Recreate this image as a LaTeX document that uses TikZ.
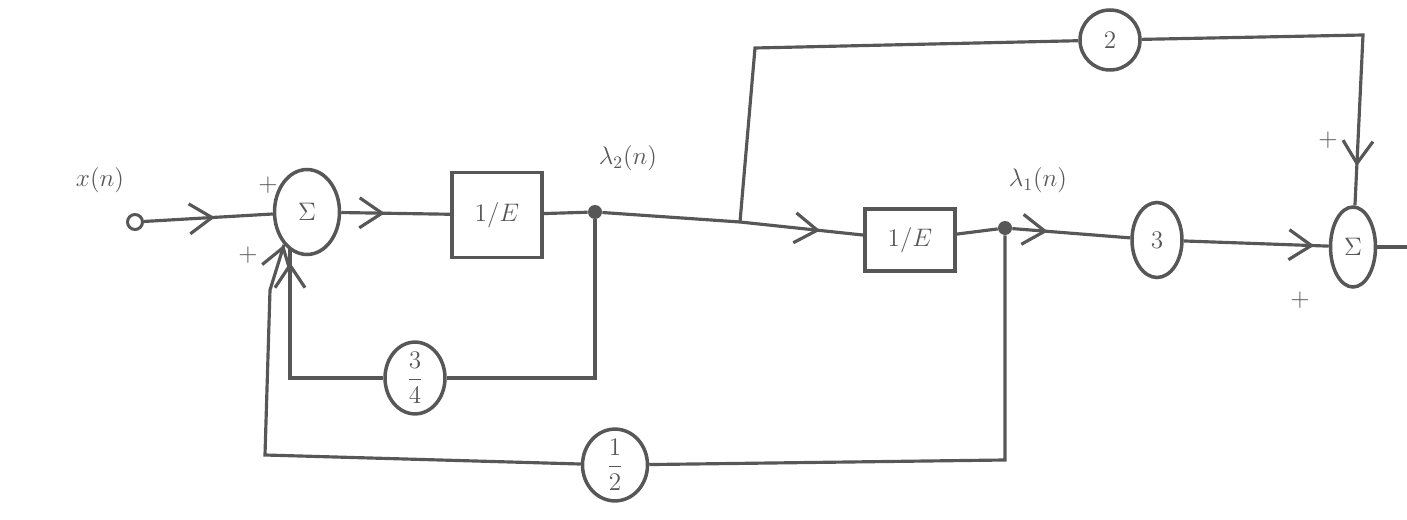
\documentclass[tikz,border=0pt]{standalone}
\usetikzlibrary{shapes.geometric,decorations.markings,arrows.meta}
\definecolor{ink}{HTML}{575757}
\tikzset{
  wire/.style={draw=ink, line width=1.8pt},
  blk/.style={draw=ink, line width=2pt, rectangle, inner sep=0pt, font=\Large, text=ink},
  oval/.style={draw=ink, line width=2pt, ellipse, inner sep=0pt, font=\Large, text=ink},
  lbl/.style={text=ink, font=\Large},
  dotn/.style={circle, fill=ink, inner sep=0pt, minimum size=0.28cm},
  arrat/.style={postaction={decorate}, decoration={markings,
     mark=at position #1 with {\arrow[ink,line width=1.8pt]{Straight Barb[length=0.45cm,width=0.6cm]}}}}
}
\begin{document}
\begin{tikzpicture}[x=0.02cm,y=-0.02cm]
\useasboundingbox (0,0) rectangle (1407,520);
% nodes
\node[draw=ink, line width=1.7pt, circle, inner sep=0pt, minimum size=0.3cm] (in) at (135,222) {};
\node[lbl] (xlab) at (100,180) {$x(n)$};
\node[oval, minimum width=1.3cm, minimum height=1.7cm] (sumL) at (307,212) {$\Sigma$};
\node[blk, minimum width=1.8cm, minimum height=1.7cm] (b1) at (497,215) {$1/E$};
\node[lbl] (l2) at (628,158) {$\lambda_2(n)$};
\node[dotn] (d1) at (595,212) {};
\coordinate (br) at (740,222);
\coordinate (top) at (755,48);
\node[blk, minimum width=1.8cm, minimum height=1.25cm] (b2) at (910,240) {$1/E$};
\node[lbl] (l1) at (1038,180) {$\lambda_1(n)$};
\node[dotn] (d2) at (1005,228) {};
\node[oval, minimum width=1cm, minimum height=1.5cm] (c3) at (1157,240) {$3$};
\node[oval, minimum width=1.2cm, minimum height=1.2cm] (c2) at (1110,40) {$2$};
\coordinate (tr) at (1363,35);
\node[oval, minimum width=0.9cm, minimum height=1.6cm] (sumR) at (1353,247) {$\Sigma$};
\coordinate (out) at (1407,247);
\node[oval, minimum width=1.2cm, minimum height=1.4cm] (c34) at (415,378) {$\displaystyle\frac{3}{4}$};
\node[oval, minimum width=1.3cm, minimum height=1.3cm] (c12) at (615,465) {$\displaystyle\frac{1}{2}$};
\coordinate (f1a) at (595,378);
\coordinate (f1b) at (290,378);
\coordinate (f1c) at (290,249);
\coordinate (f2a) at (1005,460);
\coordinate (f2b) at (265,455);
\coordinate (f2c) at (270,290);
% signs
\node[lbl] (p1) at (268,185) {$+$};
\node[lbl] (p2) at (248,255) {$+$};
\node[lbl] (p3) at (1328,140) {$+$};
\node[lbl] (p4) at (1300,300) {$+$};
% forward path
\draw[wire, arrat=0.55] (in) -- (sumL);
\draw[wire, arrat=0.4] (sumL) -- (b1);
\draw[wire] (b1) -- (d1) -- (br);
\draw[wire, arrat=0.65] (br) -- (b2);
\draw[wire] (b2) -- (d2);
\draw[wire, arrat=0.3] (d2) -- (c3);
\draw[wire, arrat=0.9] (c3) -- (sumR);
\draw[wire] (sumR) -- (out);
% upper branch
\draw[wire] (br) -- (top) -- (c2);
\draw[wire, arrat=0.9] (c2) -- (tr) -- (sumR);
% feedback loops
\draw[wire] (d1) -- (f1a) -- (c34);
\draw[wire, arrat=0.94] (c34) -- (f1b) -- (f1c);
\draw[wire] (d2) -- (f2a) -- (c12);
\draw[wire, arrat=1] (c12) -- (f2b) -- (f2c) -- (sumL.235);
\end{tikzpicture}
\end{document}
